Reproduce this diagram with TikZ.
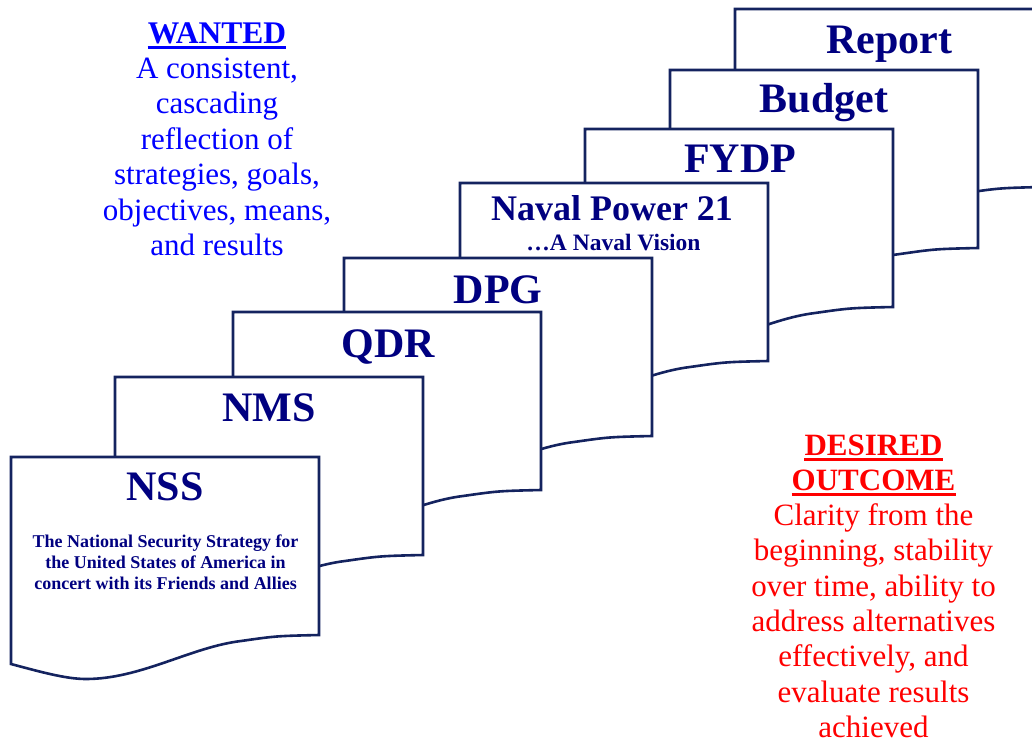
\documentclass[tikz,border=0pt]{standalone}
\usepackage{fontspec}
\setmainfont{Liberation Serif}
\definecolor{docline}{RGB}{20,35,95}
\definecolor{doctext}{RGB}{0,0,128}
\definecolor{wantblue}{RGB}{0,0,255}
\definecolor{outred}{RGB}{255,0,0}
\tikzset{
  page/.style={draw=docline, line width=2.6pt, fill=white, line join=miter},
  docpage/.pic={\path[page] (0,0) -- (308,0) -- (308,178)
      .. controls (265,179) .. (230,184)
      .. controls (180,190) and (130,222) .. (75,222)
      .. controls (55,222) and (30,215) .. (0,207) -- cycle;},
  title/.style={text=doctext, font=\bfseries\fontsize{42}{42}\selectfont, anchor=base, inner sep=0pt},
  nptitle/.style={text=doctext, font=\bfseries\fontsize{36}{36}\selectfont, anchor=base, inner sep=0pt},
  npsub/.style={text=doctext, font=\bfseries\fontsize{23.5}{24}\selectfont, anchor=base, inner sep=0pt},
  nsssub/.style={text=doctext, font=\bfseries\fontsize{18}{21}\selectfont, anchor=base, inner sep=0pt},
  wanthead/.style={text=wantblue, font=\bfseries\fontsize{31.5}{36}\selectfont, anchor=base, inner sep=0pt},
  wantline/.style={text=wantblue, font=\fontsize{31}{36}\selectfont, anchor=base, inner sep=0pt},
  outhead/.style={text=outred, font=\bfseries\fontsize{31}{36}\selectfont, anchor=base, inner sep=0pt},
  outline/.style={text=outred, font=\fontsize{31}{36}\selectfont, anchor=base, inner sep=0pt},
  bluebar/.style={draw=wantblue, line width=3pt},
  redbar/.style={draw=outred, line width=3pt}
}
\begin{document}
\begin{tikzpicture}[x=1pt,y=-1pt]
\useasboundingbox (0,0) rectangle (1032,744);
\clip (0,0) rectangle (1032,744);

% pages, back to front
\pic at (735,9) {docpage};
\node[title] (rep) at (889,53) {Report};
\pic at (670,70) {docpage};
\node[title] (bud) at (824,112) {Budget};
\pic at (585,129) {docpage};
\node[title] (fydp) at (740,172) {FYDP};
\pic at (460,183) {docpage};
\node[nptitle] (np) at (612,220) {Naval Power 21};
\node[npsub] (npsub) at (613.5,250) {…A Naval Vision};
\pic at (344,258) {docpage};
\node[title] (dpg) at (498,303) {DPG};
\pic at (233,312) {docpage};
\node[title] (qdr) at (388,357) {QDR};
\pic at (115,377) {docpage};
\node[title] (nms) at (269,421) {NMS};
\pic at (11,457) {docpage};
\node[title] (nss) at (165,500) {NSS};
\node[nsssub] (nss1) at (165.5,547) {The National Security Strategy for};
\node[nsssub] (nss2) at (165.5,568) {the United States of America in};
\node[nsssub] (nss3) at (165.5,589) {concert with its Friends and Allies};

% WANTED block
\node[wanthead] (want) at (217,43) {WANTED};
\draw[bluebar] ([yshift=-4pt]want.base west) -- ([yshift=-4pt]want.base east);
\foreach \t [count=\i from 0] in {{A consistent,},{cascading},{reflection of},{strategies, goals,},{objectives, means,},{and results}}
  \node[wantline] (want\i) at (217,78+35.5*\i) {\t};

% DESIRED OUTCOME block
\node[outhead] (des) at (873.5,455) {DESIRED};
\draw[redbar] ([yshift=-4.5pt]des.base west) -- ([yshift=-4.5pt]des.base east);
\node[outhead] (outc) at (873.5,490.3) {OUTCOME};
\draw[redbar] ([yshift=-4.5pt]outc.base west) -- ([yshift=-4.5pt]outc.base east);
\foreach \t [count=\i from 0] in {{Clarity from the},{beginning, stability},{over time, ability to},{address alternatives},{effectively, and},{evaluate results},{achieved}}
  \node[outline] (out\i) at (873.5,525.6+35.3*\i) {\t};
\end{tikzpicture}
\end{document}
